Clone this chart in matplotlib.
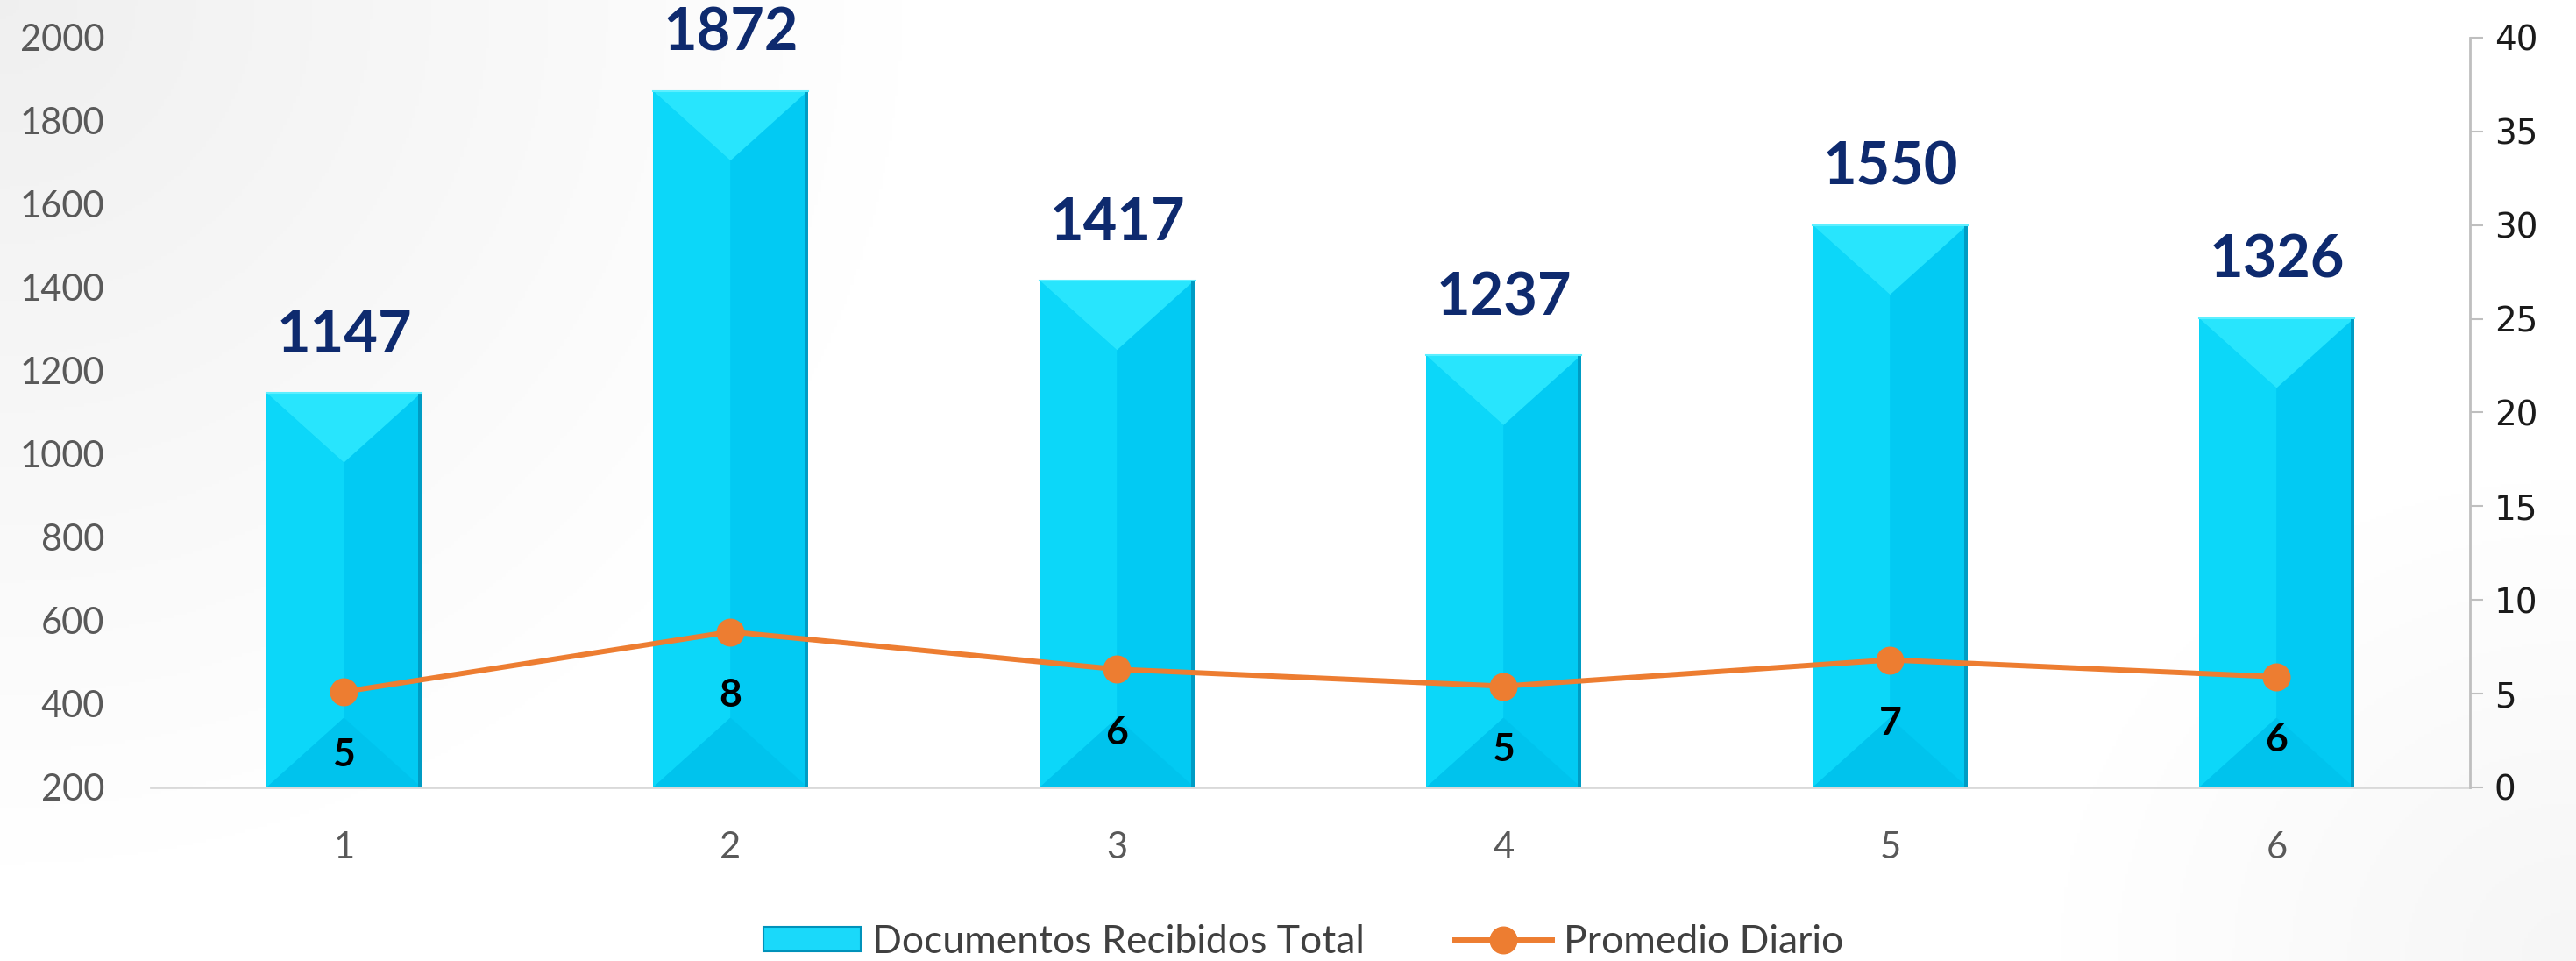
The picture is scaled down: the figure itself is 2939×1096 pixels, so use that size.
import matplotlib
matplotlib.use("Agg")
import matplotlib.pyplot as plt
import numpy as np
from matplotlib.patches import Polygon
from matplotlib.lines import Line2D

plt.rcParams['font.family'] = ['Lato', 'DejaVu Sans']

# data
months = [1, 2, 3, 4, 5, 6]
docs_total = [1147, 1872, 1417, 1237, 1550, 1326]
daily_avg = [5.1, 8.3, 6.3, 5.4, 6.8, 5.9]
left_ticks = [200, 400, 600, 800, 1000, 1200, 1400, 1600, 1800, 2000]
right_ticks = [0, 5, 10, 15, 20, 25, 30, 35, 40]

bar_label = "Documentos Recibidos Total"
line_label = "Promedio Diario"

fig = plt.figure(figsize=(29.39, 10.96), dpi=100)

# soft grey background, darker in the top-left corner
bg = fig.add_axes([0, 0, 1, 1], zorder=-10)
yy, xx = np.mgrid[0:1:300j, 0:1:800j]
d1 = np.sqrt((xx / 0.35) ** 2 + (yy / 0.9) ** 2)
d2 = np.sqrt(((1 - xx) / 0.2) ** 2 + ((1 - yy) / 0.5) ** 2)
val = np.minimum(0.94 + 0.06 * np.clip(d1, 0, 1), 0.965 + 0.035 * np.clip(d2, 0, 1))
bg.imshow(np.dstack([val, val, val]), extent=(0, 1, 0, 1), aspect='auto')
bg.axis('off')

ax = fig.add_axes([0.0585, 0.1807, 0.9003, 0.7801])
ax.patch.set_visible(False)
base = left_ticks[0]
width = 0.4
ax.set_xlim(0.5, 6.5)
ax.set_ylim(left_ticks[0], left_ticks[-1])

ax.bar(months, [v - base for v in docs_total], bottom=base, width=width,
       color='#00CCF4', edgecolor='none', zorder=2, label=bar_label)

# bevel look: work out the facet depth in data units
p0 = ax.transData.transform((0, 0))
px_w = ax.transData.transform((width, 0))[0] - p0[0]
px_y = ax.transData.transform((0, 1))[1] - p0[1]
depth = 0.45 * px_w / px_y
edge = 4 / px_w * width

for x, v in zip(months, docs_total):
    x0, x1 = x - width / 2, x + width / 2
    faces = [
        ([(x0, base), (x0, v), (x, v - depth), (x, base + depth)], '#0CD7F9'),
        ([(x1, base), (x1, v), (x, v - depth), (x, base + depth)], '#02CAF3'),
        ([(x0, v), (x1, v), (x, v - depth)], '#28E5FD'),
        ([(x0, base), (x1, base), (x, base + depth)], '#00C3ED'),
    ]
    for pts, c in faces:
        ax.add_patch(Polygon(pts, closed=True, facecolor=c, edgecolor='none', zorder=3))
    ax.add_patch(Polygon([(x1 - edge, base), (x1, base), (x1, v), (x1 - edge, v)],
                         closed=True, facecolor='#009CC4', edgecolor='none', zorder=4))
    ax.plot([x0, x1], [v, v], color='#5CEFFF', lw=1.5, zorder=4)
    ax.annotate(str(v), (x, v), xytext=(0, 47), textcoords='offset points',
                ha='center', va='center', fontsize=48, fontweight='bold',
                color='#0E2A6E', zorder=5)

ax.set_xticks(months)
ax.set_yticks(left_ticks)
ax.tick_params(axis='x', length=0, pad=36, labelsize=30, labelcolor='#595959')
ax.tick_params(axis='y', length=0, pad=38, labelsize=30, labelcolor='#595959')
for s in ['top', 'left', 'right']:
    ax.spines[s].set_visible(False)
ax.spines['bottom'].set_color('#D9D9D9')
ax.spines['bottom'].set_linewidth(2)
ax.spines['bottom'].set_zorder(1)

ax2 = ax.twinx()
ax2.patch.set_visible(False)
ax2.set_ylim(right_ticks[0], right_ticks[-1])
ax2.set_yticks(right_ticks)
ax2.plot(months, daily_avg, color='#ED7D31', lw=4.3, marker='o', ms=22,
         zorder=6, label=line_label)
for x, v in zip(months, daily_avg):
    ax2.annotate(f"{round(v)}", (x, v), xytext=(0, -52), textcoords='offset points',
                 ha='center', va='center', fontsize=32, fontweight='bold',
                 color='black', zorder=7)
for s in ['top', 'left', 'bottom']:
    ax2.spines[s].set_visible(False)
ax2.spines['right'].set_color('#BFBFBF')
ax2.spines['right'].set_linewidth(2)
ax2.tick_params(axis='y', direction='out', length=11, width=1.5, color='#BFBFBF',
                pad=9, labelsize=28, labelcolor='#1A1A1A', labelfontfamily='DejaVu Sans')

handles = [plt.Rectangle((0, 0), 1, 1, facecolor='#1AD9FA', edgecolor='#0092BA', lw=1.5),
           Line2D([], [], color='#ED7D31', lw=4.3, marker='o', ms=22)]
fig.legend(handles, [bar_label, line_label], loc='center', bbox_to_anchor=(0.506, 0.02),
           ncol=2, frameon=False, fontsize=32, labelcolor='#404040',
           handlelength=2.5, handleheight=0.6, handletextpad=0.3, columnspacing=2.3)

fig.savefig("out.png", dpi=100)
